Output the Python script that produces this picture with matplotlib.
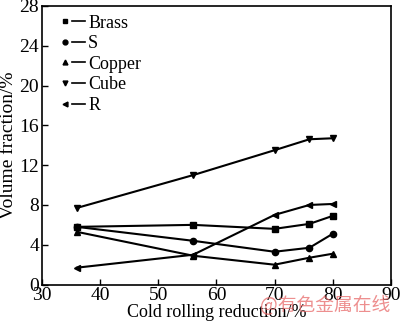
import matplotlib
matplotlib.use("Agg")
import matplotlib.pyplot as plt
from matplotlib.lines import Line2D
from matplotlib.legend_handler import HandlerTuple

plt.rcParams['font.family'] = ['Liberation Serif', 'Noto Sans CJK SC']
plt.rcParams['font.size'] = 13

reduction = [36, 56, 70, 76, 80]
brass = [5.8, 6.0, 5.6, 6.1, 6.9]
s_comp = [5.8, 4.4, 3.3, 3.7, 5.1]
copper = [5.3, 2.9, 2.0, 2.7, 3.1]
cube = [7.7, 11.0, 13.5, 14.6, 14.7]
r_comp = [1.7, 3.0, 7.0, 8.0, 8.1]

series = [("Brass", brass, "s"), ("S", s_comp, "o"), ("Copper", copper, "^"),
          ("Cube", cube, "v"), ("R", r_comp, "<")]

fig = plt.figure(figsize=(4.0, 3.26), dpi=100)
ax = fig.add_axes([0.105, 0.127, 0.872, 0.855])

handles = []
labels = []
for name, vals, mk in series:
    ax.plot(reduction, vals, color="black", lw=1.5, marker=mk, ms=4.5)
    m = Line2D([], [], color="black", marker=mk, ls="none", ms=3.5)
    l = Line2D([], [], color="black", lw=1.2)
    handles.append((m, l))
    labels.append(name)

ax.legend(handles, labels, handler_map={tuple: HandlerTuple(ndivide=None, pad=0.05)},
          loc="upper left", bbox_to_anchor=(0.0, 1.027), frameon=False,
          handlelength=1.5, handletextpad=0.15, labelspacing=0.2, fontsize=13)

ax.set_xlim(30, 90)
ax.set_ylim(0, 28)
ax.set_xticks(range(30, 91, 10))
ax.set_yticks(range(0, 29, 4))
ax.tick_params(direction="in", length=4, width=1, labelsize=14, pad=2)
for sp in ax.spines.values():
    sp.set_linewidth(1.2)
ax.set_xlabel("Cold rolling reduction/%", fontsize=13, labelpad=0)
ax.set_ylabel("Volume fraction/%", fontsize=14, labelpad=2)

fig.text(0.65, 0.062, "@有色金属在线", color="#e86a6a", alpha=0.75, fontsize=13.5,
         va="center", family=['Noto Sans CJK SC', 'DejaVu Sans'])

fig.savefig("out.png", dpi=100)
